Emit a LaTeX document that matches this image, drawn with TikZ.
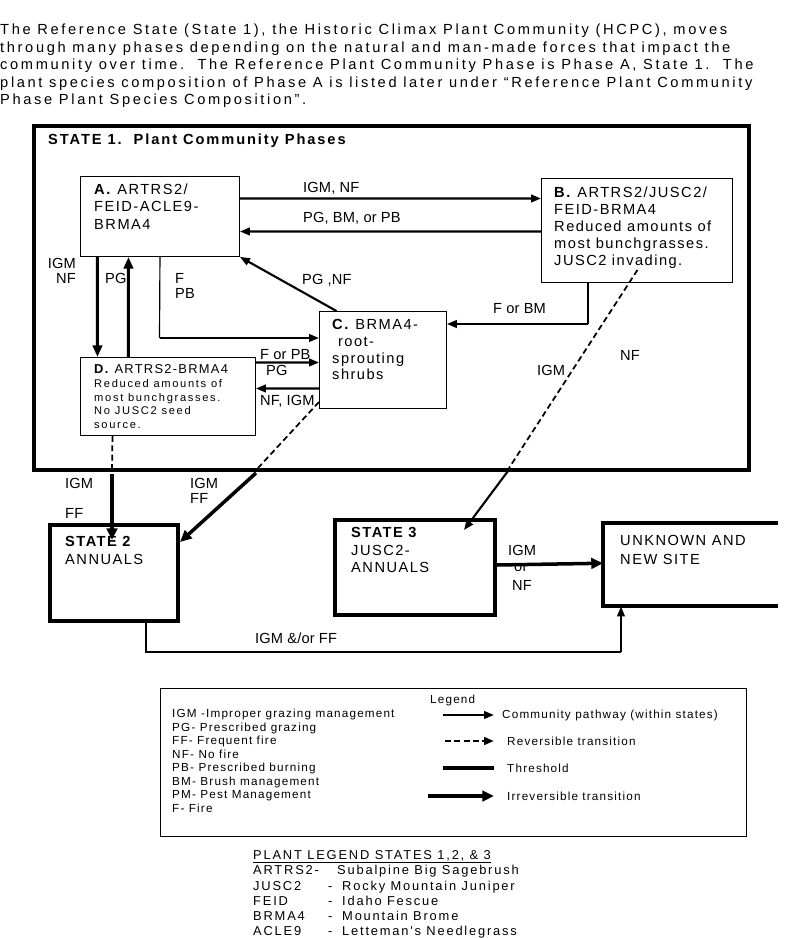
\documentclass[tikz,border=0pt]{standalone}
\usepackage{fontspec}
\setmainfont{Liberation Sans}[LetterSpace=10]
\newfontfamily\parafont{Liberation Sans}[LetterSpace=18]
\newfontfamily\titlefont{Liberation Sans}[LetterSpace=13]
\newfontfamily\lblfont{Liberation Sans}[LetterSpace=1]
\newfontfamily\legfont{Liberation Sans}[LetterSpace=10]
\newfontfamily\smallfont{Liberation Sans}[LetterSpace=15]
\newfontfamily\plantfont{Liberation Sans}[LetterSpace=14]
\usetikzlibrary{arrows.meta}

\begin{document}
\begin{tikzpicture}[x=0.03cm,y=-0.03cm,
  box/.style={draw,line width=0.8pt,anchor=north west,inner sep=0pt},
  statebox/.style={draw,line width=3.4pt,anchor=north west,inner sep=0pt},
  boxtext/.style={anchor=north west,align=left,inner sep=0pt,font=\fontsize{12.5}{14.8}\selectfont},
  smalltext/.style={anchor=north west,align=left,inner sep=0pt,font=\smallfont\fontsize{9.5}{11.5}\selectfont},
  lbl/.style={anchor=west,inner sep=0pt,font=\lblfont\fontsize{12.5}{14}\selectfont},
  legtext/.style={anchor=west,inner sep=0pt,font=\legfont\fontsize{10}{11.5}\selectfont},
  plant/.style={anchor=base west,inner sep=0pt,font=\plantfont\fontsize{11}{13}\selectfont},
  plain/.style={line width=1pt},
  pway/.style={line width=1.8pt,-{Triangle[length=8.5pt,width=6.5pt]}},
  heavy/.style={line width=2.6pt,-{Triangle[length=10pt,width=8pt]}},
  irrev/.style={line width=3pt,-{Triangle[length=10pt,width=9pt]}},
  revers/.style={line width=1.5pt,dash pattern=on 5pt off 3pt},
  revarrow/.style={revers,line width=2.2pt,-{Triangle[length=8.5pt,width=6.5pt]}},
  thresh/.style={line width=3pt}
]
\useasboundingbox (0,0) rectangle (800,938);

% intro text
\node[anchor=north west,align=left,inner sep=0pt,font=\parafont\fontsize{12.5}{14.9}\selectfont] (intro) at (0,24)
  {The Reference State (State 1), the Historic Climax Plant Community (HCPC), moves\\
   through many phases depending on the natural and man-made forces that impact the\\
   community over time.\ \ The Reference Plant Community Phase is Phase A, State 1.\ \ The\\
   plant species composition of Phase A is listed later under “Reference Plant Community\\
   Phase Plant Species Composition”.};

% state 1 and its phases
\node[statebox,minimum width=21.45cm,minimum height=10.32cm] (S1) at (32,124) {};
\node[anchor=west,inner sep=0pt,font=\titlefont\bfseries\fontsize{12.5}{15}\selectfont] (S1t) at (48,141) {STATE 1.\ \ Plant Community Phases};

\node[box,minimum width=4.77cm,minimum height=2.4cm] (A) at (80,176) {};
\node[boxtext] (At) at (94,183.5) {\textbf{A.} ARTRS2/\\FEID-ACLE9-\\BRMA4};

\node[box,minimum width=5.73cm,minimum height=3.12cm] (B) at (541,178) {};
\node[boxtext,font=\fontsize{12.5}{14.5}\selectfont] (Bt) at (554,186.5)
  {\textbf{B.} ARTRS2/JUSC2/\\FEID-BRMA4\\Reduced amounts of\\most bunchgrasses.\\JUSC2 invading.};

\node[box,minimum width=3.81cm,minimum height=2.91cm] (C) at (319,311) {};
\node[boxtext,font=\fontsize{12.5}{14.2}\selectfont] (Ct) at (332,319.5)
  {\textbf{C.} BRMA4-\\\hspace{0.4em}root-\\sprouting\\shrubs};

\node[box,minimum width=5.25cm,minimum height=2.34cm] (D) at (80,357) {};
\node[boxtext,font=\fontsize{11}{13}\selectfont] (Dt) at (94,364) {\textbf{D.} ARTRS2-BRMA4};
\node[smalltext] (Ds) at (94,379.6) {Reduced amounts of\\most bunchgrasses.\\No JUSC2 seed\\source.};

% states 2, 3 and the unknown site
\node[statebox,minimum width=3.84cm,minimum height=2.88cm] (S2) at (48,523) {};
\node[boxtext,font=\fontsize{12.5}{15.5}\selectfont] (S2t) at (65,536) {\textbf{STATE 2}\\ANNUALS};

\node[statebox,minimum width=4.8cm,minimum height=2.85cm] (S3) at (333,518) {};
\node[boxtext] (S3t) at (351,527.5) {\textbf{STATE 3}\\JUSC2-\\ANNUALS};

\node[anchor=north west,inner sep=0pt,minimum width=5.25cm,minimum height=2.49cm] (U) at (603,523) {};
\draw[line width=3.4pt] (U.north east) -- (U.north west) -- (U.south west) -- (U.south east);
\node[boxtext,font=\fontsize{12.5}{15.4}\selectfont] (Ut) at (620,535.5) {UNKNOWN AND\\NEW SITE};

% labels
\node[lbl] at (303,188) {IGM, NF};
\node[lbl] at (303,218) {PG, BM, or PB};
\node[lbl,anchor=east] at (76,263) {IGM};
\node[lbl,anchor=east] at (76,278) {NF};
\node[lbl] at (105,278) {PG};
\node[lbl] at (175,278) {F};
\node[lbl] at (175,293) {PB};
\node[lbl] at (302,280) {PG ,NF};
\node[lbl] at (493,309) {F or BM};
\node[lbl] at (260,355) {F or PB};
\node[lbl] at (266,370) {PG};
\node[lbl] at (260,401) {NF, IGM};
\node[lbl] at (537,370) {IGM};
\node[lbl] at (620,355) {NF};
\node[lbl] at (65,483) {IGM};
\node[lbl] at (65,513) {FF};
\node[lbl] at (190,483) {IGM};
\node[lbl] at (190,498) {FF};
\node[lbl] at (508,550) {IGM};
\node[lbl] at (514,568) {or};
\node[lbl] at (512,585) {NF};
\node[lbl] at (255,638) {IGM \&/or FF};

% pathways within state 1
\draw[pway] ([shift={(0,-18)}]A.east) -- ([shift={(0,-32)}]B.west);
\draw[pway] ([shift={(0,1)}]B.west) -- ([shift={(0,15)}]A.east);
\draw[heavy] ([shift={(-62.5,0)}]A.south) -- ([shift={(-70.5,0)}]D.north);
\draw[heavy] ([shift={(-39.5,0)}]D.north) -- ([shift={(-31.5,0)}]A.south);
\coordinate (ac) at (159.5,338);
\draw[plain] (A.south) -- (ac);
\draw[pway] (ac) -- (C.west |- ac);
\draw[pway] ([shift={(-46.5,0)}]C.north) -- (A.south east);
\draw[pway] ([shift={(0,-34)}]D.east) -- ([shift={(0,2.5)}]C.west);
\draw[pway] ([shift={(0,28.5)}]C.west) -- ([shift={(0,-8)}]D.east);
\coordinate (bc) at (588,324);
\draw[plain] (B.south -| bc) -- (bc);
\draw[pway] (bc) -- (C.east |- bc);

% transitions out of state 1
\coordinate (ds) at (112,474);
\coordinate (s2a) at (112,540);
\draw[revers] ([shift={(-55.5,0)}]D.south) -- (S1.south -| ds);
\draw[irrev] (ds) -- (s2a);
\coordinate (cs0) at (258,468);
\coordinate (cs) at (256,473);
\draw[revers] ([shift={(0,42)}]C.west) -- (cs0);
\draw[irrev] (cs) -- ([shift={(0,-31)}]S2.east);
\coordinate (bs0) at (509,468);
\coordinate (bs) at (508,471);
\coordinate (s3a) at (464,530);
\draw[revers] ([shift={(0.5,-13)}]B.south) -- (bs0);
\draw[pway] (bs) -- (s3a);
\draw[irrev] ([shift={(0,-2.5)}]S3.east) -- ([shift={(0,-1.5)}]U.west);
\coordinate (su) at (621,652);
\draw[plain] ([shift={(32,0)}]S2.south) |- (su);
\draw[pway] (su) -- (U.south -| su);

% legend
\node[box,minimum width=17.58cm,minimum height=4.44cm] (leg) at (160,688) {};
\node[legtext] (legt) at (430,700) {Legend};
\node[anchor=north west,align=left,inner sep=0pt,font=\legfont\fontsize{10}{11.5}\selectfont] (abbr) at (172,709)
  {IGM -Improper grazing management\\PG- Prescribed grazing\\FF- Frequent fire\\NF- No fire\\
   PB- Prescribed burning\\BM- Brush management\\PM- Pest Management\\F- Fire};
\foreach \y/\sty/\x/\tx/\txt in {715/pway/443/502/Community pathway (within states),
    741/revarrow/445/507/Reversible transition,
    768/thresh/443/507/Threshold,
    796/irrev/428/507/Irreversible transition}{
  \coordinate (la\y) at (\x,\y);
  \coordinate (lb\y) at (494,\y);
  \draw[\sty] (la\y) -- (lb\y);
  \node[legtext] at (\tx,\y) {\txt};
}

% plant legend
\node[plant] (plh) at (253,859) {\underline{PLANT LEGEND STATES 1,2, \& 3}};
\node[plant] at (253,874) {ARTRS2-};
\node[plant] at (337,874) {Subalpine Big Sagebrush};
\foreach \y/\code/\name in {890/JUSC2/Rocky Mountain Juniper,905/FEID/Idaho Fescue,
    920/BRMA4/Mountain Brome,935/ACLE9/Letteman's Needlegrass}{
  \node[plant] at (253,\y) {\code};
  \node[plant] at (328,\y) {-};
  \node[plant] at (342,\y) {\name};
}
\end{tikzpicture}
\end{document}
